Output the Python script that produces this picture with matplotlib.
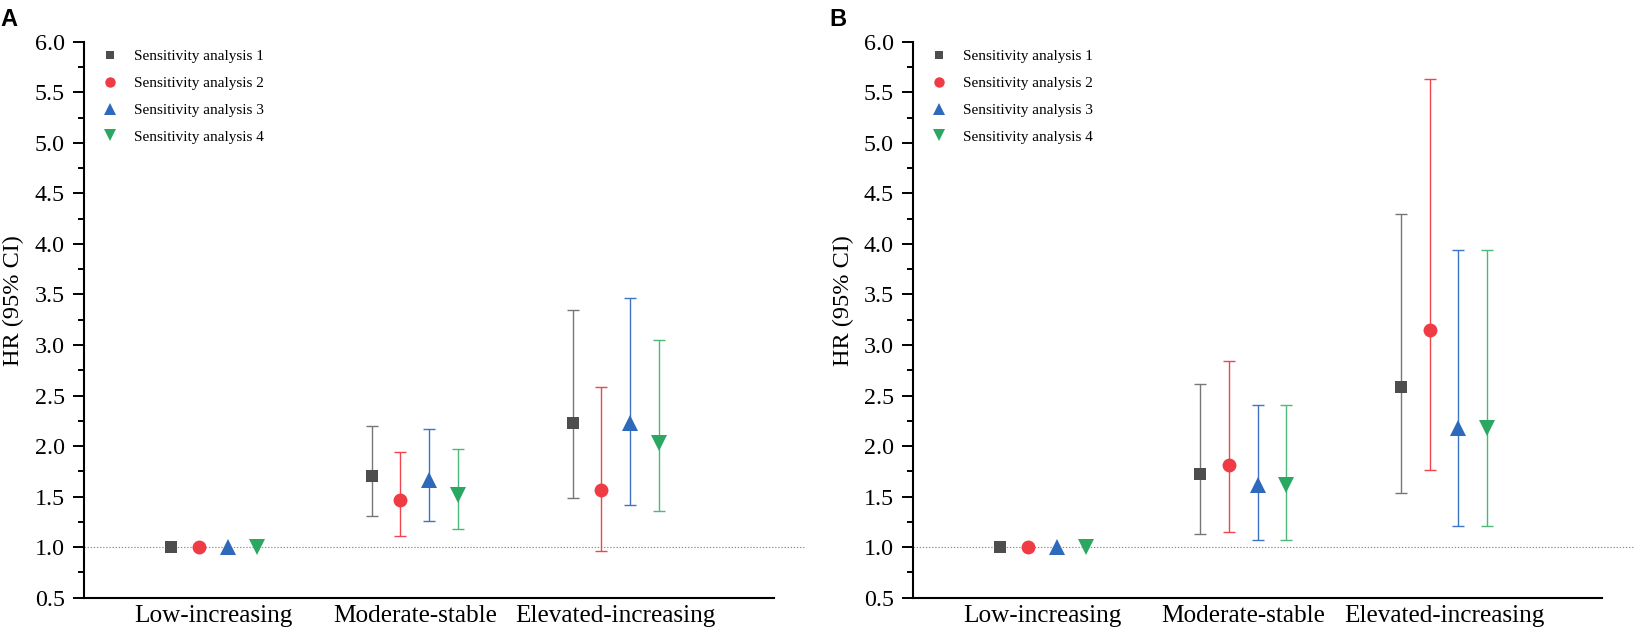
import numpy as np
import matplotlib
matplotlib.use("Agg")
import matplotlib.pyplot as plt
from matplotlib.lines import Line2D
from matplotlib.ticker import MultipleLocator, FormatStrFormatter

plt.rcParams['font.family'] = ['Liberation Serif', 'DejaVu Serif']

groups = ['Low-increasing', 'Moderate-stable', 'Elevated-increasing']
series = ['Sensitivity analysis 1', 'Sensitivity analysis 2',
          'Sensitivity analysis 3', 'Sensitivity analysis 4']

# panel A: HR, lower CI, upper CI per series
a_hr = [[1.00, 1.70, 2.23], [1.00, 1.47, 1.57], [1.00, 1.66, 2.23], [1.00, 1.52, 2.03]]
a_lo = [[1.00, 1.31, 1.49], [1.00, 1.11, 0.96], [1.00, 1.26, 1.42], [1.00, 1.18, 1.36]]
a_hi = [[1.00, 2.20, 3.35], [1.00, 1.94, 2.58], [1.00, 2.17, 3.46], [1.00, 1.97, 3.05]]

# panel B
b_hr = [[1.00, 1.72, 2.58], [1.00, 1.81, 3.15], [1.00, 1.61, 2.18], [1.00, 1.61, 2.18]]
b_lo = [[1.00, 1.13, 1.54], [1.00, 1.15, 1.76], [1.00, 1.07, 1.21], [1.00, 1.07, 1.21]]
b_hi = [[1.00, 2.61, 4.30], [1.00, 2.84, 5.63], [1.00, 2.41, 3.94], [1.00, 2.41, 3.94]]

markers = ['s', 'o', '^', 'v']
msizes = [8.6, 10.0, 11.0, 11.0]
colors = ['#4d4d4d', '#ef3b43', '#2f69bb', '#2aa862']
ecolors = ['#767676', '#f0454d', '#3d74c6', '#4cb87a']
step = 0.1428


def draw_panel(ax, hr, lo, hi, tag):
    x = np.arange(1, len(groups) + 1)
    for i in range(len(series)):
        xs = x + (i - 1.5) * step
        h = np.array(hr[i])
        l = np.array(lo[i])
        u = np.array(hi[i])
        m = u > l
        ax.errorbar(xs[m], h[m], yerr=[h[m] - l[m], u[m] - h[m]], fmt='none',
                    ecolor=ecolors[i], elinewidth=1.0, capsize=4.4, capthick=1.0,
                    zorder=2)
        ax.plot(xs, h, linestyle='none', marker=markers[i], ms=msizes[i],
                color=colors[i], mew=0, zorder=3)

    ax.plot([0, 1.045], [1.0, 1.0], transform=ax.get_yaxis_transform(),
            color='#8a8a8a', lw=0.8, dashes=(1.2, 1.6), clip_on=False, zorder=1)

    ax.set_xlim(0.356, 3.789)
    ax.set_ylim(0.5, 6.0)
    ax.set_xticks(x)
    ax.set_xticklabels(groups)
    ax.yaxis.set_major_locator(MultipleLocator(0.5))
    ax.yaxis.set_minor_locator(MultipleLocator(0.25))
    ax.yaxis.set_major_formatter(FormatStrFormatter('%.1f'))
    ax.tick_params(axis='x', length=0, pad=5, labelsize=18.2)
    ax.tick_params(axis='y', which='major', direction='out', length=8, width=1.4,
                   pad=6, labelsize=17.3)
    ax.tick_params(axis='y', which='minor', direction='out', length=4, width=1.4)
    for s in ['top', 'right']:
        ax.spines[s].set_visible(False)
    for s in ['left', 'bottom']:
        ax.spines[s].set_linewidth(1.5)

    ax.set_ylabel('HR (95% CI)', fontsize=17.5)
    ax.yaxis.set_label_coords(-0.0867, 0.534)

    handles = [Line2D([], [], linestyle='none', marker=markers[i], ms=msizes[i],
                      color=colors[i], mew=0) for i in range(len(series))]
    ax.legend(handles, series, loc='upper left', bbox_to_anchor=(0.026, 0.986),
              frameon=False, fontsize=11, markerscale=0.75, handlelength=1.0,
              handletextpad=1.1, labelspacing=0.86, borderpad=0, borderaxespad=0)

    ax.text(-0.122, 1.06, tag, transform=ax.transAxes, fontsize=17,
            fontweight='bold', family='Liberation Sans', va='top', ha='left')


fig = plt.figure(figsize=(16.35, 6.29), dpi=100)
ax1 = fig.add_axes([0.05156, 0.04976, 0.4220, 0.8839])
ax2 = fig.add_axes([0.5586, 0.04976, 0.4214, 0.8839])

draw_panel(ax1, a_hr, a_lo, a_hi, 'A')
draw_panel(ax2, b_hr, b_lo, b_hi, 'B')

fig.savefig('out.png', dpi=100)
